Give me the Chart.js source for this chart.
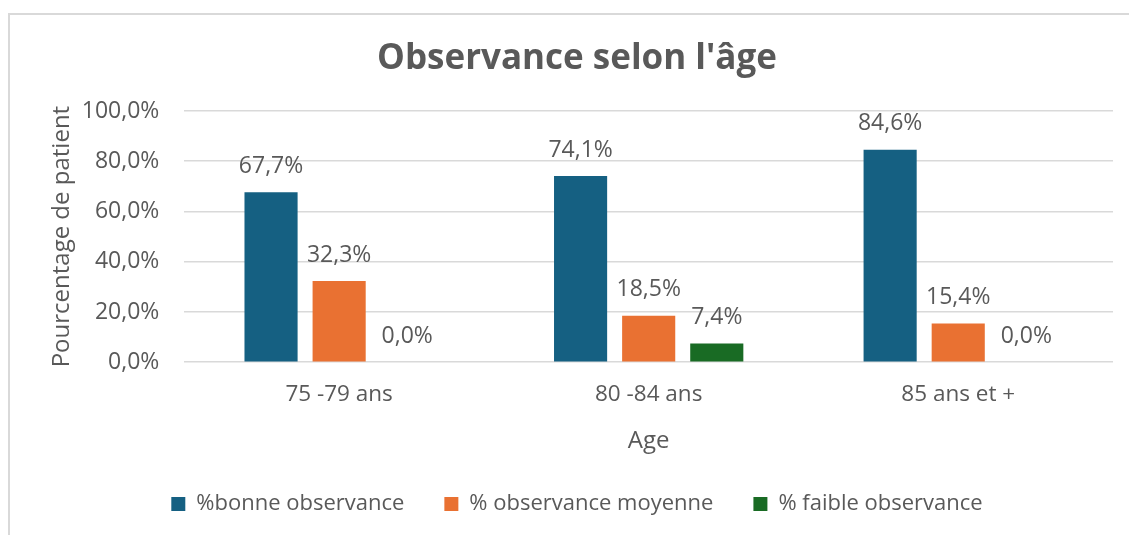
<!DOCTYPE html>
<html>
<head>
<meta charset="utf-8">
<script src="https://cdn.jsdelivr.net/npm/chart.js@4"></script>
<style>
  html, body { margin: 0; padding: 0; background: #fff; }
  #wrap { position: relative; width: 1129px; height: 535px; overflow: hidden; }
  #frame { position: absolute; left: 8px; top: 13px; width: 1200px; height: 600px;
           border-left: 2px solid #d9d9d9; border-top: 2px solid #d9d9d9; }
  canvas { position: absolute; left: 0; top: 0; }
</style>
</head>
<body>
<div id="wrap">
  <div id="frame"></div>
  <canvas id="chart" width="1129" height="535"></canvas>
</div>
<script>
// données
const ageGroups = ['75 -79 ans', '80 -84 ans', '85 ans et +'];
const bonne = [67.7, 74.1, 84.6];
const moyenne = [32.3, 18.5, 15.4];
const faible = [0.0, 7.4, 0.0];
const seriesNames = ['%bonne observance', '% observance moyenne', '% faible observance'];

const textColor = '#595959';
const fontFamily = '"Open Sans", sans-serif';

function fmt(v) {
    return v.toFixed(1).replace('.', ',') + '%';
}

// étiquettes de valeurs au-dessus des barres
const valueLabels = {
    id: 'valueLabels',
    afterDatasetsDraw(chart) {
        const ctx = chart.ctx;
        ctx.save();
        ctx.font = '23px ' + fontFamily;
        ctx.fillStyle = textColor;
        ctx.textAlign = 'center';
        ctx.textBaseline = 'middle';
        chart.data.datasets.forEach(function (ds, i) {
            chart.getDatasetMeta(i).data.forEach(function (bar, j) {
                ctx.fillText(fmt(ds.data[j]), bar.x, bar.y - 26);
            });
        });
        ctx.restore();
    }
};

const ctx = document.getElementById('chart').getContext('2d');
new Chart(ctx, {
    type: 'bar',
    data: {
        labels: ageGroups,
        datasets: [
            { label: seriesNames[0], data: bonne, backgroundColor: '#156082' },
            { label: seriesNames[1], data: moyenne, backgroundColor: '#E97132' },
            { label: seriesNames[2], data: faible, backgroundColor: '#196B24' }
        ]
    },
    options: {
        responsive: false,
        animation: false,
        devicePixelRatio: 1,
        categoryPercentage: 0.66,
        barPercentage: 0.78,
        layout: { padding: { left: 41, right: 16, top: 30, bottom: 10 } },
        scales: {
            x: {
                grid: { display: false },
                border: { display: false },
                ticks: { color: textColor, font: { size: 22.5, family: fontFamily }, padding: 11 },
                title: { display: true, text: 'Age', color: textColor, font: { size: 24, family: fontFamily }, padding: { top: 8, bottom: -3 } }
            },
            y: {
                min: 0,
                max: 100,
                ticks: {
                    stepSize: 20,
                    color: textColor,
                    font: { size: 23, family: fontFamily },
                    padding: 25,
                    callback: function (v) { return fmt(v); }
                },
                grid: { color: '#d9d9d9', lineWidth: 1.5, drawTicks: false },
                border: { display: false },
                title: { display: true, text: 'Pourcentage de patient', color: textColor, font: { size: 24, family: fontFamily }, padding: { top: 7, bottom: -20 } }
            }
        },
        plugins: {
            title: {
                display: true,
                text: "Observance selon l'âge",
                color: textColor,
                font: { size: 35, weight: 'bold', family: fontFamily },
                padding: { top: 8, bottom: 31 }
            },
            legend: {
                position: 'bottom',
                labels: {
                    color: textColor,
                    font: { size: 22, family: fontFamily },
                    boxWidth: 14,
                    boxHeight: 14,
                    padding: 40
                }
            },
            tooltip: { enabled: false }
        }
    },
    plugins: [valueLabels]
});
</script>
</body>
</html>
